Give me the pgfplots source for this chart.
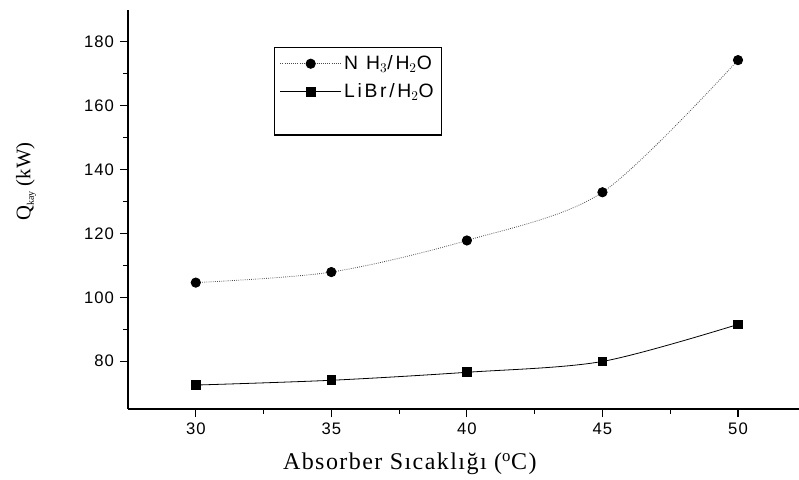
\documentclass[border=0pt]{standalone}
\usepackage{fontspec}
\setmainfont{Liberation Serif}
\newfontfamily\arial[LetterSpace=6]{Liberation Sans}
\newfontfamily\arialleg[LetterSpace=14]{Liberation Sans}
\newfontfamily\serifsp[LetterSpace=6]{Liberation Serif}
\usepackage{pgfplots}
\pgfplotsset{compat=1.18}
\begin{document}
\begin{tikzpicture}
\useasboundingbox (0pt,0pt) rectangle (599.25pt,359.25pt);
\begin{axis}[
  at={(96pt,52.5pt)}, anchor=south west,
  scale only axis,
  width=503.25pt, height=299.25pt,
  xmin=27.5, xmax=52.25,
  ymin=65, ymax=190,
  axis lines=left,
  axis line style={-, line width=0.9pt},
  xtick={30,35,40,45,50},
  ytick={80,100,120,140,160,180},
  minor tick num=1,
  tick align=outside,
  major tick length=6pt,
  minor tick length=3.5pt,
  tick style={line width=0.8pt, black},
  /pgf/number format/assume math mode=true,
  ticklabel style={font=\arial\fontsize{12.5}{14}\selectfont},
  xticklabel style={yshift=-1pt},
  yticklabel style={xshift=-1pt},
  xlabel={Absorber Sıcaklığı ($^{\mathrm{o}}$C)},
  xlabel style={font=\serifsp\fontsize{18}{20}\selectfont, at={(axis description cs:0.42,-0.138)}, anchor=center},
  ylabel={Q\raisebox{-2.5pt}{\fontsize{7.5}{8}\selectfont kay} (kW)},
  ylabel style={font=\fontsize{15.5}{17}\selectfont, at={(axis description cs:-0.152,0.57)}, anchor=center},
  legend style={at={(axis description cs:0.2176,0.907)}, anchor=north west,
    draw=black, line width=0.9pt, font=\arialleg\fontsize{14.5}{16}\selectfont,
    inner xsep=4pt, inner ysep=4pt, row sep=5pt,
    nodes={line width=0.5pt}},
  legend cell align=left,
  legend image code/.code={\draw[mark repeat=2,mark phase=2] plot coordinates {(0cm,0cm) (0.8cm,0cm) (1.6cm,0cm)};},
  clip=false,
]
\addplot[black!70, line width=0.6pt, densely dotted, smooth, mark=*, mark size=3.5pt, mark options={solid, fill=black, draw=black}]
  coordinates {(30,104.6) (35,107.9) (40,117.8) (45,132.9) (50,174.3)};
\addlegendentry{N H$_3$/H$_2$O}
\addplot[black, line width=0.6pt, smooth, mark=square*, mark size=3.3pt, mark options={solid, fill=black}]
  coordinates {(30,72.5) (35,74.0) (40,76.5) (45,79.9) (50,91.5)};
\addlegendentry{LiBr/H$_2$O}
\addlegendimage{empty legend}
\addlegendentry{\phantom{L}}
\end{axis}
\end{tikzpicture}
\end{document}
